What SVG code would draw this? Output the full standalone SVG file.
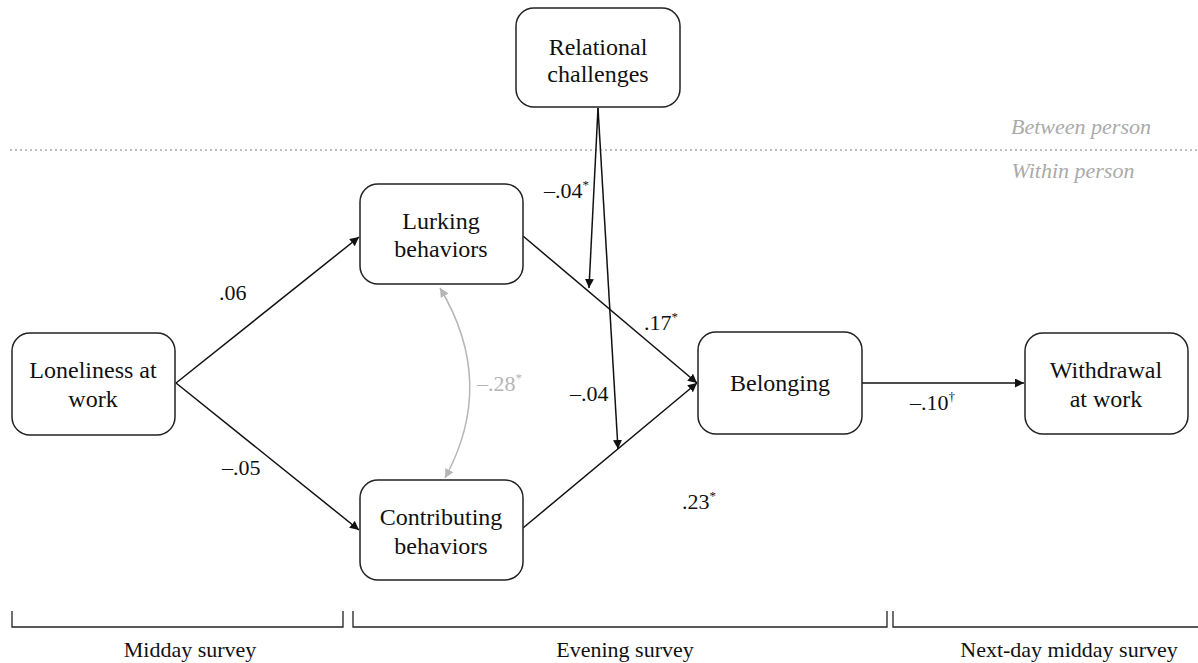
<svg xmlns="http://www.w3.org/2000/svg" width="1198" height="663" viewBox="0 0 1198 663">
  <defs>
    <marker id="arr" viewBox="0 0 10 10" refX="10" refY="5" markerWidth="9" markerHeight="9" markerUnits="userSpaceOnUse" orient="auto">
      <path d="M0,0 L10,5 L0,10 z" fill="#111"/>
    </marker>
    <marker id="arrg" viewBox="0 0 10 10" refX="10" refY="5" markerWidth="9" markerHeight="9" markerUnits="userSpaceOnUse" orient="auto-start-reverse">
      <path d="M0,0 L10,5 L0,10 z" fill="#b5b5b5"/>
    </marker>
    <style>
      text { font-family: 'Liberation Serif', 'Times New Roman', serif; }
      .box { fill: #fff; stroke: #222; stroke-width: 1.5; }
      .lbl { font-size: 24px; fill: #111; text-anchor: middle; }
      .coef { font-size: 22px; fill: #111; }
      .coef.gray { fill: #b5b5b5; }
      .sup { font-size: 13px; }
      .edge { stroke: #111; stroke-width: 1.5; fill: none; }
      .level { font-size: 22px; font-style: italic; fill: #aaa; text-anchor: middle; }
      .survey { font-size: 22px; fill: #111; text-anchor: middle; }
      .bracket { stroke: #222; stroke-width: 1.3; fill: none; }
    </style>
  </defs>

  <!-- level separator -->
  <line x1="10" y1="150" x2="1198" y2="150" stroke="#aaa" stroke-width="1.5" stroke-dasharray="2,3"/>
  <text class="level" x="1081" y="134">Between person</text>
  <text class="level" x="1073" y="178">Within person</text>

  <!-- connectors -->
  <g id="connectors">
    <line class="edge" x1="176" y1="383" x2="359" y2="237" marker-end="url(#arr)"/>
    <line class="edge" x1="176" y1="383" x2="359" y2="530" marker-end="url(#arr)"/>
    <line class="edge" x1="523" y1="236" x2="697" y2="383" marker-end="url(#arr)"/>
    <line class="edge" x1="523" y1="528" x2="697" y2="383" marker-end="url(#arr)"/>
    <line class="edge" x1="862" y1="383" x2="1024" y2="383" marker-end="url(#arr)"/>
    <line class="edge" x1="598" y1="108" x2="589" y2="288" marker-end="url(#arr)"/>
    <line class="edge" x1="598" y1="108" x2="618" y2="449" marker-end="url(#arr)"/>
    <path d="M440,288 Q497,383 445,478" stroke="#b5b5b5" stroke-width="1.5" fill="none" marker-start="url(#arrg)" marker-end="url(#arrg)"/>

    <text class="coef" x="219" y="300">.06</text>
    <text class="coef" x="222" y="475">–.05</text>
    <text class="coef" x="544" y="198">–.04<tspan class="sup" dy="-9">*</tspan></text>
    <text class="coef" x="644" y="330">.17<tspan class="sup" dy="-9">*</tspan></text>
    <text class="coef" x="570" y="401">–.04</text>
    <text class="coef" x="682" y="509">.23<tspan class="sup" dy="-9">*</tspan></text>
    <text class="coef gray" x="477" y="391">–.28<tspan class="sup" dy="-9">*</tspan></text>
    <text class="coef" x="910" y="410">–.10<tspan class="sup" dy="-9">†</tspan></text>
  </g>

  <!-- nodes -->
  <g id="relational">
    <rect class="box" x="516" y="8" width="164" height="99" rx="18"/>
    <text class="lbl" x="598" y="55">Relational</text>
    <text class="lbl" x="598" y="82">challenges</text>
  </g>
  <g id="lurking">
    <rect class="box" x="360" y="184" width="163" height="100" rx="18"/>
    <text class="lbl" x="441" y="229">Lurking</text>
    <text class="lbl" x="441" y="257">behaviors</text>
  </g>
  <g id="contributing">
    <rect class="box" x="360" y="480" width="163" height="100" rx="18"/>
    <text class="lbl" x="441" y="525">Contributing</text>
    <text class="lbl" x="441" y="554">behaviors</text>
  </g>
  <g id="loneliness">
    <rect class="box" x="12" y="333" width="163" height="102" rx="18"/>
    <text class="lbl" x="93" y="378">Loneliness at</text>
    <text class="lbl" x="93" y="407">work</text>
  </g>
  <g id="belonging">
    <rect class="box" x="698" y="332" width="164" height="102" rx="18"/>
    <text class="lbl" x="780" y="391">Belonging</text>
  </g>
  <g id="withdrawal">
    <rect class="box" x="1025" y="333" width="163" height="101" rx="18"/>
    <text class="lbl" x="1106" y="378">Withdrawal</text>
    <text class="lbl" x="1106" y="407">at work</text>
  </g>

  <!-- survey timeline -->
  <g id="timeline">
    <path class="bracket" d="M12,611 V627 H343 V611"/>
    <path class="bracket" d="M353,611 V627 H887 V611"/>
    <path class="bracket" d="M893,611 V627 H1198"/>
    <text class="survey" x="190" y="657">Midday survey</text>
    <text class="survey" x="625" y="657">Evening survey</text>
    <text class="survey" x="1069" y="657">Next-day midday survey</text>
  </g>
</svg>
